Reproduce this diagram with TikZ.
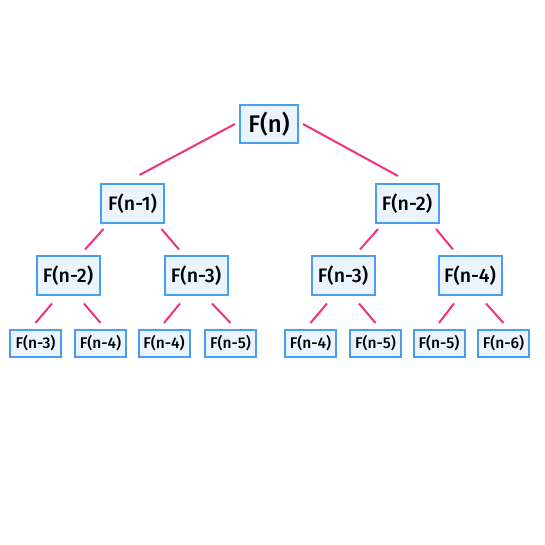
\documentclass[tikz,border=0pt]{standalone}
\usepackage{fontspec}
\setmainfont{Fira Sans}[UprightFont=* Medium]
\usetikzlibrary{calc}
\definecolor{boxblue}{RGB}{74,158,240}
\definecolor{boxfill}{RGB}{234,244,254}
\definecolor{edgepink}{RGB}{240,48,128}
\tikzset{
  fbox/.style={draw=boxblue,fill=boxfill,line width=2pt,inner sep=0pt},
  big/.style={fbox,minimum width=58pt,minimum height=38pt,font=\fontsize{24}{24}\selectfont},
  mid/.style={fbox,minimum width=63pt,minimum height=39pt,font=\fontsize{19.5}{19.5}\selectfont},
  small/.style={fbox,minimum width=51pt,minimum height=27pt,font=\fontsize{15.5}{15.5}\selectfont},
  edge/.style={draw=edgepink,line width=2pt}
}

\begin{document}
\begin{tikzpicture}[x=1pt,y=1pt]
	\useasboundingbox (0,0) rectangle (545,545);

	\node[big] (n) at (269,421) {F(n)};

	\node[mid] (l) at (132.5,341.5) {F(n-1)};
	\node[mid] (r) at (407,341.5) {F(n-2)};

	\foreach \name/\x/\label in {ll/68/2, lr/196/3, rl/343/3, rr/470/4}
		\node[mid] (\name) at (\x,269) {F(n-\label)};

	\foreach \name/\x/\label in
	{lll/35.5/3, llr/100.5/4, lrl/164/4, lrr/230.5/5,
	rll/310.5/4, rlr/375.5/5, rrl/439/5, rrr/503.5/6}
		\node[small] (\name) at (\x,201.5) {F(n-\label)};

	% root to first level
	\draw[edge] ($(n.west)+(-4,0)$) -- ($(l.north)+(7,8)$);
	\draw[edge] ($(n.east)+(4,0)$) -- ($(r.north)+(-9,7)$);

	\foreach \p/\a/\b in {l/ll/lr, r/rl/rr}
	{
		\draw[edge] ($(\p.south)+(-29,-5)$) -- ($(\a.north)+(17,6)$);
		\draw[edge] ($(\p.south)+(29,-5)$) -- ($(\b.north)+(-17,6)$);
	}

	\foreach \p/\a/\b in {ll/lll/llr, lr/lrl/lrr, rl/rll/rlr, rr/rrl/rrr}
	{
		\draw[edge] ($(\p.south)+(-16,-7)$) -- ($(\a.north)+(0,6)$);
		\draw[edge] ($(\p.south)+(16,-7)$) -- ($(\b.north)+(0,6)$);
	}
\end{tikzpicture}
\end{document}
